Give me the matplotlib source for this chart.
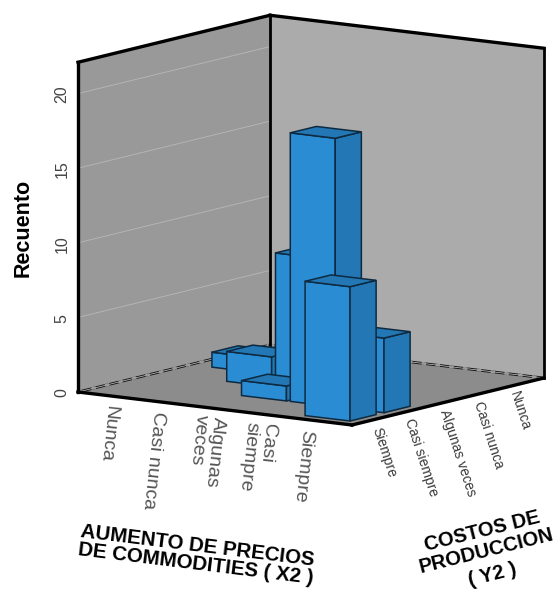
import numpy as np
import matplotlib
matplotlib.use('Agg')
import matplotlib.pyplot as plt
from matplotlib.patches import Polygon

plt.rcParams['font.family'] = ['Liberation Sans', 'DejaVu Sans']

X2_LABELS = ['Nunca', 'Casi nunca', 'Algunas\nveces', 'Casi\nsiempre', 'Siempre']
Y2_LABELS = ['Siempre', 'Casi siempre', 'Algunas veces', 'Casi nunca', 'Nunca']
Y2_TITLE = ['COSTOS DE', 'PRODUCCION', '( Y2 )']
Z_TICKS = [0, 5, 10, 15, 20]
Z_MAX = 22.1

# one entry per non empty cell of the crosstab
bar_x2 = [0, 1, 2, 2, 3, 4, 4]
bar_y2 = [3, 2, 2, 1, 1, 1, 0]
bar_count = [1, 2, 9, 1, 18, 5, 9]

# oblique projection, all in pixels
ORIGIN = np.array([78.0, 392.0])
STEP_X = np.array([54.8, 6.6])
STEP_Y = np.array([38.4, -9.4])
STEP_Z = np.array([0.0, -14.92])

# category centres on the floor, the floor has some padding round the cells
X_START, X_PITCH = 0.806, 0.89
Y_START, Y_PITCH = 0.608, 0.885
BAR_DX = 0.82
BAR_DY = 0.68

BAR_FRONT = '#2a8dd4'
BAR_SIDE = '#2277b4'
BAR_EDGE = '#0e2a40'
WALL_LEFT = '#999999'
WALL_RIGHT = '#ababab'
FLOOR = '#8c8c8c'
GRID = '#b4b4b4'


def project(x, y, z=0):
    return ORIGIN + x * STEP_X + y * STEP_Y + z * STEP_Z


def face(ax, corners, color, edge=None, lw=0, zorder=1):
    pts = [project(*c) for c in corners]
    ax.add_patch(Polygon(pts, closed=True, facecolor=color, edgecolor=edge or color,
                         linewidth=lw, joinstyle='miter', zorder=zorder))


def edge_line(ax, start, end, lw=2.4, zorder=5):
    p = np.array([project(*start), project(*end)])
    ax.plot(p[:, 0], p[:, 1], color='black', lw=lw, solid_capstyle='projecting', zorder=zorder)


fig = plt.figure(figsize=(5.58, 5.89), dpi=100)
ax = fig.add_axes([0, 0, 1, 1])
ax.set_xlim(0, 558)
ax.set_ylim(589, 0)
ax.axis('off')

# floor and the two back walls
face(ax, [(0, 0, 0), (5, 0, 0), (5, 5, 0), (0, 5, 0)], FLOOR)
face(ax, [(0, 0, 0), (0, 5, 0), (0, 5, Z_MAX), (0, 0, Z_MAX)], WALL_LEFT)
face(ax, [(0, 5, 0), (5, 5, 0), (5, 5, Z_MAX), (0, 5, Z_MAX)], WALL_RIGHT)

for z in Z_TICKS[1:]:
    p = np.array([project(0, 0, z), project(0, 5, z)])
    ax.plot(p[:, 0], p[:, 1], color=GRID, lw=0.7, zorder=2)

# dashed seam where the walls meet the floor
for start, end in [((0, 0, 0), (0, 5, 0)), ((0, 5, 0), (5, 5, 0))]:
    p = np.array([project(*start), project(*end)])
    ax.plot(p[:, 0], p[:, 1], color='#111111', lw=1.9, zorder=2)
    ax.plot(p[:, 0], p[:, 1], color='#b5b5b5', lw=0.6, zorder=2)
    ax.plot(p[:, 0], p[:, 1], color='#9a9a9a', lw=2.0, ls=(0, (1.6, 3.4)), zorder=2)

# frame
edge_line(ax, (0, 5, 0), (0, 5, Z_MAX), lw=2.0)
edge_line(ax, (0, 0, 0), (0, 0, Z_MAX))
edge_line(ax, (0, 0, Z_MAX), (0, 5, Z_MAX))
edge_line(ax, (0, 5, Z_MAX), (5, 5, Z_MAX))
edge_line(ax, (5, 5, 0), (5, 5, Z_MAX), lw=2.0)
edge_line(ax, (0, 0, 0), (5, 0, 0), zorder=3)
edge_line(ax, (5, 0, 0), (5, 5, 0), zorder=3)

# painter's order, back cells first
order = np.argsort(np.array(bar_x2) - np.array(bar_y2))
for n, k in enumerate(order):
    cx = X_START + X_PITCH * bar_x2[k]
    cy = Y_START + Y_PITCH * bar_y2[k]
    x0, x1 = cx - BAR_DX / 2, cx + BAR_DX / 2
    y0, y1 = cy - BAR_DY / 2, cy + BAR_DY / 2
    h = bar_count[k]
    zo = 10 + n
    face(ax, [(x0, y0, 0), (x1, y0, 0), (x1, y0, h), (x0, y0, h)], BAR_FRONT, BAR_EDGE, 1.1, zo)
    face(ax, [(x1, y0, 0), (x1, y1, 0), (x1, y1, h), (x1, y0, h)], BAR_SIDE, BAR_EDGE, 1.1, zo)
    face(ax, [(x0, y0, h), (x1, y0, h), (x1, y1, h), (x0, y1, h)], BAR_SIDE, BAR_EDGE, 1.1, zo)

# count axis
for z in Z_TICKS:
    p = project(0, 0, z)
    ax.text(p[0] - 16, p[1] + 1, str(z), rotation=90, ha='center', va='center',
            fontsize=11.5, color='#444444')
ax.text(23, 228, 'Recuento', rotation=90, ha='center', va='center',
        fontsize=15.5, fontweight='bold', color='black')

# category labels
x2_pos = [(108, 405), (153, 411), (206, 414), (257, 421), (303, 429)]
for label, (px, py) in zip(X2_LABELS, x2_pos):
    ax.text(px, py, label, rotation=-96, ha='center', va='top', ma='left',
            fontsize=14, color='#555555', linespacing=1.0)

y2_pos = [(384, 426), (421, 417), (458, 408), (489, 400), (520, 390)]
for label, (px, py) in zip(Y2_LABELS, y2_pos):
    ax.text(px, py, label, rotation=-72, ha='center', va='top',
            fontsize=10, color='#3a3a3a')

ax.text(197, 555, 'AUMENTO DE PRECIOS\nDE COMMODITIES ( X2 )', rotation=-7, ha='center', va='center',
        ma='left', fontsize=14.8, fontweight='bold', color='black', linespacing=0.95)

# the three lines of this title are spaced unevenly, so each one is placed by itself
title_pos = [(482, 531), (486, 551), (492, 575)]
for line, (px, py) in zip(Y2_TITLE, title_pos):
    ax.text(px, py, line, rotation=14, ha='center', va='center',
            fontsize=14.5, fontweight='bold', color='black')

fig.savefig('out.png', dpi=100)
